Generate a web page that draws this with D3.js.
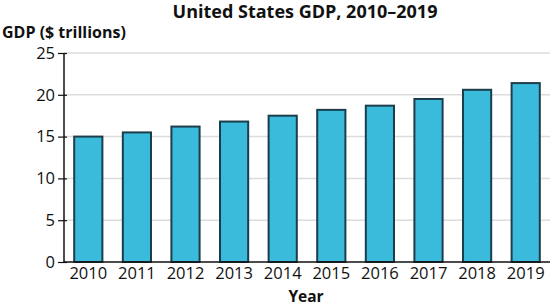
<!DOCTYPE html>
<html>
<head>
<meta charset="utf-8">
<script src="https://d3js.org/d3.v7.min.js"></script>
<style>
  body { margin: 0; background: #fff; }
  text { font-family: "Open Sans", sans-serif; fill: #111; }
</style>
</head>
<body>
<svg width="550" height="308"></svg>
<script>
// data
var years = ["2010", "2011", "2012", "2013", "2014", "2015", "2016", "2017", "2018", "2019"];
var gdp = [15.0, 15.5, 16.2, 16.8, 17.5, 18.2, 18.7, 19.5, 20.6, 21.4];
var yTicks = [0, 5, 10, 15, 20, 25];

var svg = d3.select("svg"),
  width = +svg.attr("width"),
  height = +svg.attr("height");

var plotLeft = 64, plotRight = 550, plotTop = 53, plotBottom = 262;

var xscale = d3.scaleBand()
  .domain(years)
  .range([plotLeft, plotRight])
  .paddingInner(0.42)
  .paddingOuter(0.21);

var yscale = d3.scaleLinear()
  .domain([0, 25])
  .range([plotBottom, plotTop]);

// gridlines
svg.append("g").selectAll("line")
  .data(yTicks.slice(1)).enter().append("line")
  .attr("x1", plotLeft)
  .attr("x2", plotRight)
  .attr("y1", function(d) { return yscale(d); })
  .attr("y2", function(d) { return yscale(d); })
  .attr("stroke", "#dcdcdc")
  .attr("stroke-width", 1.5);

// bars
svg.append("g").selectAll("rect")
  .data(gdp).enter().append("rect")
  .attr("x", function(d, i) { return xscale(years[i]); })
  .attr("y", function(d) { return yscale(d); })
  .attr("width", xscale.bandwidth())
  .attr("height", function(d) { return yscale(0) - yscale(d); })
  .attr("fill", "#3bbbdb")
  .attr("stroke", "#1c3d4a")
  .attr("stroke-width", 2);

// y axis
var yAxis = svg.append("g")
  .attr("transform", "translate(" + plotLeft + ",0)")
  .call(d3.axisLeft(yscale).tickValues(yTicks).tickSize(6).tickSizeOuter(0));
yAxis.select(".domain").attr("stroke", "#111").attr("stroke-width", 1.5)
  .attr("d", "M0," + plotTop + "V" + plotBottom);
yAxis.selectAll(".tick line").attr("stroke", "#111").attr("stroke-width", 1.2)
  .attr("x1", 3).attr("x2", -6);
yAxis.selectAll(".tick text").attr("x", -9)
  .style("font-family", "Open Sans").style("font-size", "16.5px").attr("fill", "#111");

// x axis
var xAxis = svg.append("g")
  .attr("transform", "translate(0," + plotBottom + ")")
  .call(d3.axisBottom(xscale).tickSize(0));
xAxis.select(".domain").attr("stroke", "#111").attr("stroke-width", 1.5)
  .attr("d", "M" + plotLeft + ",0H" + plotRight);
xAxis.selectAll(".tick text").attr("dy", "0.71em").attr("y", 5)
  .style("font-family", "Open Sans").style("font-size", "16.5px").attr("fill", "#111");

// titles
svg.append("text")
  .attr("x", 305).attr("y", 18)
  .attr("text-anchor", "middle")
  .style("font-size", "18px").style("font-weight", "bold")
  .text("United States GDP, 2010–2019");

svg.append("text")
  .attr("x", 2).attr("y", 38)
  .style("font-size", "16px").style("font-weight", "bold")
  .text("GDP ($ trillions)");

svg.append("text")
  .attr("x", 306).attr("y", 302)
  .attr("text-anchor", "middle")
  .style("font-size", "15.5px").style("font-weight", "bold")
  .text("Year");
</script>
</body>
</html>
